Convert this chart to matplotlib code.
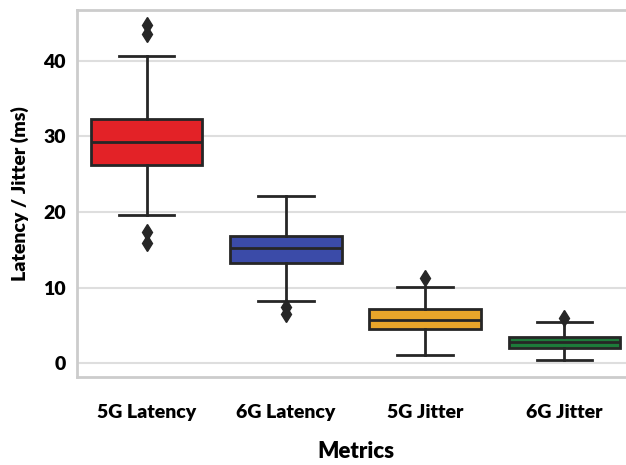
import matplotlib
matplotlib.use("Agg")
from matplotlib import pyplot as plt

# box statistics
metrics = ['5G Latency', '6G Latency', '5G Jitter', '6G Jitter']
q1 = [26.2, 13.2, 4.5, 2.0]
med = [29.3, 15.2, 5.7, 2.8]
q3 = [32.3, 16.8, 7.15, 3.4]
whislo = [19.6, 8.2, 1.05, 0.4]
whishi = [40.7, 22.1, 10.1, 5.4]
fliers = [[44.7, 43.6, 17.3, 15.9], [7.4, 6.5], [11.3], [6.0]]
colors = ['#e32227', '#3b4ba8', '#e8a52a', '#1d7a3a']

plt.rcParams['font.family'] = ['Lato', 'DejaVu Sans']
plt.rcParams['font.weight'] = 'heavy'

fig = plt.figure(figsize=(6.26, 4.65), dpi=100)
ax = fig.add_axes([0.123, 0.189, 0.89, 0.789])

stats = []
for i in range(len(metrics)):
    stats.append(dict(label=metrics[i], q1=q1[i], med=med[i], q3=q3[i],
                      whislo=whislo[i], whishi=whishi[i], fliers=fliers[i]))

dark = '#262626'
bp = ax.bxp(stats, positions=range(len(metrics)), widths=0.8, patch_artist=True,
            boxprops=dict(edgecolor=dark, linewidth=2),
            medianprops=dict(color=dark, linewidth=2),
            whiskerprops=dict(color=dark, linewidth=2),
            capprops=dict(color=dark, linewidth=2),
            flierprops=dict(marker='d', markerfacecolor=dark, markeredgecolor=dark,
                            markersize=8))
for patch, c in zip(bp['boxes'], colors):
    patch.set_facecolor(c)

ax.set_xlim(-0.5, 3.5)
ax.set_ylim(-1.85, 46.7)
ax.set_yticks([0, 10, 20, 30, 40])
ax.yaxis.grid(True, color='#dedede', linewidth=1.5)
ax.set_axisbelow(True)
for s in ax.spines.values():
    s.set_color('#cccccc')
    s.set_linewidth(2)
ax.spines['right'].set_visible(False)
ax.tick_params(axis='both', length=0, labelsize=14)
ax.tick_params(axis='x', pad=19)
ax.tick_params(axis='y', pad=8)
ax.set_xlabel('Metrics', fontsize=16, fontweight='heavy', labelpad=15)
ax.set_ylabel('Latency / Jitter (ms)', fontsize=14, fontweight='heavy', labelpad=10)

fig.savefig('out.png', dpi=100)
